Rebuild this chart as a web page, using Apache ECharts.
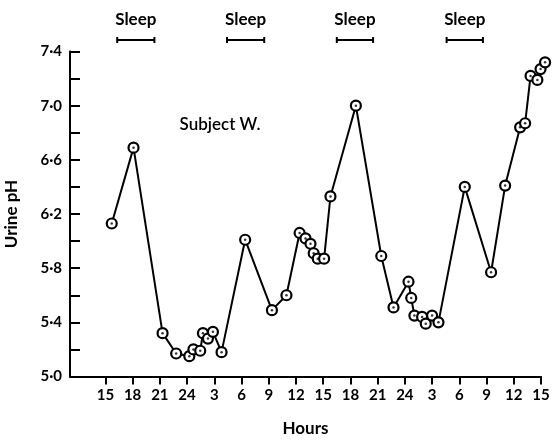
<!DOCTYPE html>
<html>
<head>
<meta charset="utf-8">
<script src="https://cdn.jsdelivr.net/npm/echarts@6/dist/echarts.min.js"></script>
<style>html,body{margin:0;padding:0;background:#fff}#c{width:552px;height:440px}</style>
</head>
<body>
<div id="c"></div>
<script>
// hours elapsed since 15:00 on day 1
const hours = [0.7, 3.1, 6.3, 7.8, 9.25, 9.7, 10.45, 10.75, 11.3, 11.85, 12.8, 15.4, 18.35, 19.95, 21.4, 22.05, 22.6, 22.95, 23.4, 24.1, 24.8, 27.6, 30.4, 31.75, 33.4, 33.7, 34.05, 34.9, 35.3, 36.0, 36.7, 39.6, 42.5, 44.05, 45.7, 46.25, 46.85, 47.6, 47.95, 48.45];
const urinePH = [6.13, 6.69, 5.32, 5.17, 5.15, 5.20, 5.19, 5.32, 5.28, 5.33, 5.18, 6.01, 5.49, 5.60, 6.06, 6.02, 5.98, 5.91, 5.87, 5.87, 6.33, 7.00, 5.89, 5.51, 5.70, 5.58, 5.45, 5.44, 5.39, 5.45, 5.40, 6.40, 5.77, 6.41, 6.84, 6.87, 7.22, 7.19, 7.27, 7.32];
const tickHours = [0, 3, 6, 9, 12, 15, 18, 21, 24, 27, 30, 33, 36, 39, 42, 45, 48];
const tickLabels = ['15', '18', '21', '24', '3', '6', '9', '12', '15', '18', '21', '24', '3', '6', '9', '12', '15'];
const sleepStart = [1.3, 13.4, 25.5, 37.6];
const sleepEnd = [5.4, 17.5, 29.5, 41.6];

const FONT = 'Lato';
const pts = hours.map((h, i) => [h, urinePH[i]]);

const chart = echarts.init(document.getElementById('c'));
chart.setOption({
  animation: false,
  backgroundColor: '#fff',
  textStyle: { fontFamily: FONT },
  grid: { left: 70, right: 11, top: 51.5, bottom: 63.5, containLabel: false, outerBoundsMode: 'none' },
  xAxis: {
    type: 'value', min: -3.9, max: 48,
    name: 'Hours', nameLocation: 'middle', nameGap: 44,
    nameTextStyle: { fontFamily: FONT, fontSize: 17, fontWeight: 'bold', color: '#000' },
    splitLine: { show: false },
    axisLine: { onZero: false, lineStyle: { color: '#000', width: 2 } },
    axisTick: { show: true, length: 8, lineStyle: { color: '#000', width: 2 }, customValues: tickHours },
    axisLabel: {
      customValues: tickHours, margin: 11,
      fontFamily: FONT, fontSize: 15, fontWeight: 'bold', color: '#000',
      formatter: v => { const i = tickHours.indexOf(Math.round(v)); return i >= 0 ? tickLabels[i] : ''; }
    }
  },
  yAxis: {
    type: 'value', min: 5.0, max: 7.4, interval: 0.2,
    name: 'Urine pH', nameLocation: 'middle', nameGap: 50, nameRotate: 90,
    nameTextStyle: { fontFamily: FONT, fontSize: 17, fontWeight: 'bold', color: '#000' },
    splitLine: { show: false },
    axisLine: { show: true, onZero: false, lineStyle: { color: '#000', width: 2 } },
    axisTick: { show: true, inside: true, length: 10, lineStyle: { color: '#000', width: 2 } },
    axisLabel: {
      margin: 8, fontFamily: FONT, fontSize: 15, fontWeight: 'bold', color: '#000',
      formatter: v => { const k = Math.round((v - 5) / 0.2); return k % 2 === 0 ? v.toFixed(1).replace('.', '·') : ''; }
    }
  },
  series: [
    {
      type: 'line', data: pts, clip: false,
      lineStyle: { color: '#000', width: 2 },
      symbol: 'circle', symbolSize: 10,
      itemStyle: { color: '#fff', borderColor: '#000', borderWidth: 2.2 },
      z: 2
    },
    {
      type: 'scatter', data: pts, clip: false,
      symbol: 'circle', symbolSize: 2.5,
      itemStyle: { color: '#000' },
      z: 3
    }
  ]
});

// annotations: sleep periods and subject label
const g = [];
const barY = 40;
for (let i = 0; i < sleepStart.length; i++) {
  const x1 = chart.convertToPixel({ gridIndex: 0 }, [sleepStart[i], 6])[0];
  const x2 = chart.convertToPixel({ gridIndex: 0 }, [sleepEnd[i], 6])[0];
  g.push({ type: 'line', shape: { x1: x1, y1: barY, x2: x2, y2: barY }, style: { stroke: '#000', lineWidth: 2 } });
  g.push({ type: 'line', shape: { x1: x1, y1: barY - 3, x2: x1, y2: barY + 3 }, style: { stroke: '#000', lineWidth: 2 } });
  g.push({ type: 'line', shape: { x1: x2, y1: barY - 3, x2: x2, y2: barY + 3 }, style: { stroke: '#000', lineWidth: 2 } });
  g.push({ type: 'text', x: (x1 + x2) / 2, y: 20, style: { text: 'Sleep', fill: '#000', font: 'bold 17px ' + FONT, align: 'center', verticalAlign: 'middle' } });
}
g.push({ type: 'text', x: 220, y: 125, style: { text: 'Subject W.', fill: '#000', font: '600 17px ' + FONT, align: 'center', verticalAlign: 'middle' } });
chart.setOption({ graphic: g });
</script>
</body>
</html>
